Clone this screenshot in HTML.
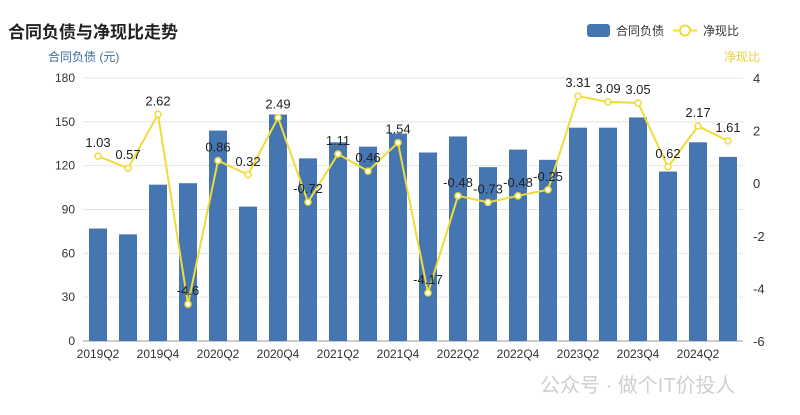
<!DOCTYPE html>
<html><head><meta charset="utf-8"><style>
body{margin:0;background:#fff;}
svg text{font-family:"Liberation Sans","Noto Sans CJK SC",sans-serif;}
</style></head><body>
<svg id="c" width="800" height="410" xmlns="http://www.w3.org/2000/svg">
<text x="8" y="38" font-size="17" font-weight="bold" fill="#222">合同负债与净现比走势</text>
<text x="48" y="61" font-size="12" fill="#3d6a9e">合同负债 (元)</text>
<text x="724" y="61" font-size="12" fill="#e6d140">净现比</text>
<g>
<rect x="587" y="24" width="23" height="13" rx="3" fill="#4576b1"/>
<text x="616" y="35" font-size="12" fill="#333">合同负债</text>
<line x1="673" y1="30.5" x2="697" y2="30.5" stroke="#eedc3a" stroke-width="2"/>
<circle cx="685" cy="30.5" r="5" fill="#fff" stroke="#eedc3a" stroke-width="2"/>
<text x="703" y="35" font-size="12" fill="#333">净现比</text>
</g>
<g id="grid"></g><g id="bars"></g><g id="line"></g><g id="axes"></g>
<text x="540" y="392" font-size="20" fill="#c4c4c4" opacity="0.8">公众号 · 做个IT价投人</text>
</svg>
<script>
const categories=["2019Q2","2019Q3","2019Q4","2020Q1","2020Q2","2020Q3","2020Q4","2021Q1","2021Q2","2021Q3","2021Q4","2022Q1","2022Q2","2022Q3","2022Q4","2023Q1","2023Q2","2023Q3","2023Q4","2024Q1","2024Q2","2024Q3"];
const liabilities=[77,73,107,108,144,92,155,125,136,133,142,129,140,119,131,124,146,146,153,116,136,126];
const ratio=[1.03,0.57,2.62,-4.6,0.86,0.32,2.49,-0.72,1.11,0.46,1.54,-4.17,-0.48,-0.73,-0.48,-0.25,3.31,3.09,3.05,0.62,2.17,1.61];
const leftTicks=[0,30,60,90,120,150,180];
const rightTicks=[-6,-4,-2,0,2,4];
const NS="http://www.w3.org/2000/svg";
const X0=83,X1=743,YT=78,YB=341;
const band=(X1-X0)/categories.length;
const xc=i=>X0+band*(i+0.5);
const yL=v=>YB-(v-0)/(180-0)*(YB-YT);
const yR=v=>YB-(v+6)/(10)*(YB-YT);
function mk(tag,attrs,parent,text){const e=document.createElementNS(NS,tag);for(const k in attrs)e.setAttribute(k,attrs[k]);if(text!==undefined)e.textContent=text;document.getElementById(parent).appendChild(e);return e;}
leftTicks.forEach(t=>{
  const g=mk('line',{x1:X0,x2:X1,y1:yL(t),y2:yL(t),stroke:t===0?'#999':'#e4e4e4','stroke-width':1},'grid');
  
  
  const l=mk('text',{x:X0-8,y:yL(t)+4,'font-size':12,fill:'#333','text-anchor':'end'},'axes',String(t));
  
  
});
rightTicks.forEach(t=>{
  const l=mk('text',{x:X1+10,y:yR(t)+5,'font-size':13,fill:'#333'},'axes',String(t));
  
  
});
categories.forEach((c,i)=>{
  const b=mk('rect',{x:xc(i)-9,y:yL(liabilities[i]),width:18,height:YB-yL(liabilities[i]),fill:'#4576b1'},'bars');
  
  
  if(i%2===0){
    const l=mk('text',{x:xc(i),y:YB+17,'font-size':12,fill:'#333','text-anchor':'middle'},'axes',c);
    
    
  }
});
const pts=ratio.map((v,i)=>xc(i)+','+yR(v)).join(' ');
const pl=mk('polyline',{points:pts,fill:'none',stroke:'#eedc3a','stroke-width':2},'line');


ratio.forEach((v,i)=>{
  const p=mk('circle',{cx:xc(i),cy:yR(v),r:3,fill:'#fff',stroke:'#eedc3a','stroke-width':1.5},'line');
  
  
  const t=mk('text',{x:xc(i),y:yR(v)-9,'font-size':13,fill:'#222','text-anchor':'middle'},'line',String(v));
  
  
});
</script>
</body></html>
